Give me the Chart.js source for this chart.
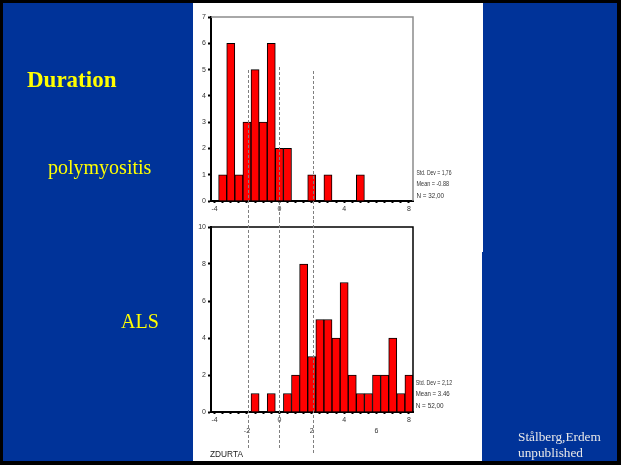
<!DOCTYPE html>
<html><head><meta charset="utf-8">
<script src="https://cdn.jsdelivr.net/npm/chart.js@4"></script>
<style>
html,body{margin:0;padding:0;background:#000;}
#slide{position:relative;width:621px;height:465px;background:#000;overflow:hidden;}
#blue{position:absolute;left:3px;top:3px;width:614px;height:458px;background:#003399;}
.white{position:absolute;background:#fff;}
canvas{position:absolute;}
svg{position:absolute;left:0;top:0;}
</style></head><body>
<div id="slide">
<div id="blue"></div>
<div class="white" style="left:193px;top:3px;width:290px;height:249px"></div>
<div class="white" style="left:193px;top:252px;width:289px;height:209px"></div>
<canvas id="c1" width="289" height="217" style="left:193px;top:3px"></canvas>
<canvas id="c2" width="289" height="241" style="left:193px;top:220px"></canvas>
<svg width="621" height="465">
  <text x="27" y="87" font-family="Liberation Serif" font-weight="bold" font-size="23" fill="#ffff00">Duration</text>
  <text x="48" y="174" font-family="Liberation Serif" font-size="20" fill="#ffff00">polymyositis</text>
  <text x="121" y="328" font-family="Liberation Serif" font-size="20" fill="#ffff00">ALS</text>
  <text x="518" y="440.5" font-family="Liberation Serif" font-size="13.3" fill="#e8e8e8">Stålberg,Erdem</text>
  <text x="518" y="457" font-family="Liberation Serif" font-size="13.3" fill="#e8e8e8">unpublished</text>
  <g font-family="Liberation Sans" font-size="6.5" fill="#333">
    <text x="416.5" y="175" textLength="35" lengthAdjust="spacingAndGlyphs">Std. Dev = 1,76</text>
    <text x="416.5" y="186" textLength="32.5" lengthAdjust="spacingAndGlyphs">Mean = -0.88</text>
    <text x="416.5" y="197.6" textLength="27.5" lengthAdjust="spacingAndGlyphs">N = 32,00</text>
    <text x="415.7" y="385" textLength="36.5" lengthAdjust="spacingAndGlyphs">Std. Dev = 2,12</text>
    <text x="415.7" y="396.3" textLength="34" lengthAdjust="spacingAndGlyphs">Mean = 3.46</text>
    <text x="415.7" y="408" textLength="28" lengthAdjust="spacingAndGlyphs">N = 52,00</text>
  </g>
  <text x="210" y="456.5" font-family="Liberation Sans" font-size="8.3" fill="#222" textLength="33" lengthAdjust="spacingAndGlyphs">ZDURTA</text>
</svg>
</div>
<script>
// ---- data ----
const polyBins   = [-3.5, -3, -2.5, -2, -1.5, -1, -0.5, 0, 0.5, 2, 3, 5];
const polyCounts = [1, 6, 1, 3, 5, 3, 6, 2, 2, 1, 1, 1];
const alsBins    = [-1.5, -0.5, 0.5, 1, 1.5, 2, 2.5, 3, 3.5, 4, 4.5, 5, 5.5, 6, 6.5, 7, 7.5, 8];
const alsCounts  = [1, 1, 1, 2, 8, 3, 5, 5, 4, 7, 2, 1, 1, 2, 2, 4, 1, 2];
const polyXLabels = [-4, 0, 4, 8];
const alsXLabelsUpper = [-4, 0, 4, 8];
const alsXLabelsLower = [-2, 2, 6];
const polyYMax = 7, polyYStep = 1;
const alsYMax = 10, alsYStep = 2;
const xMin = -4.22, xMax = 8.25, xStep = 0.5;
const refLines = [-1.95, 0, 2.05];

const has = (arr, v) => arr.some(l => Math.abs(l - v) < 1e-6);

function framePlugin(color, spans) {
  return {
    id: 'frame',
    afterDatasetsDraw(chart) {
      const { ctx, chartArea: a, scales: { x } } = chart;
      ctx.save();
      ctx.strokeStyle = color; ctx.lineWidth = 1.5;
      ctx.beginPath();
      ctx.moveTo(a.left, a.top); ctx.lineTo(a.right, a.top); ctx.lineTo(a.right, a.bottom);
      ctx.stroke();
      ctx.strokeStyle = '#808080'; ctx.lineWidth = 1; ctx.setLineDash([3, 2]);
      refLines.forEach((v, i) => {
        const px = Math.round(x.getPixelForValue(v)) + 0.5;
        ctx.beginPath(); ctx.moveTo(px, spans[i][0]); ctx.lineTo(px, spans[i][1]); ctx.stroke();
      });
      ctx.restore();
    }
  };
}

function makeChart(id, bins, counts, yMax, yStep, labelFn, padTop, xAxisH, lineHeight, tickPad, frameColor, spans) {
  return new Chart(document.getElementById(id), {
    type: 'bar',
    data: {
      datasets: [{
        data: bins.map((b, i) => ({ x: b, y: counts[i] })),
        backgroundColor: '#ff0000', borderColor: '#000', borderWidth: 1,
        barPercentage: 1, categoryPercentage: 1
      }]
    },
    options: {
      responsive: false, animation: false, devicePixelRatio: 1,
      layout: { padding: { left: 0, top: padTop, right: 69, bottom: 0 } },
      plugins: { legend: { display: false }, tooltip: { enabled: false } },
      scales: {
        x: {
          type: 'linear', min: xMin, max: xMax, offset: false,
          grid: { offset: false, drawOnChartArea: false, tickLength: 2, tickWidth: 2, tickColor: '#000' },
          border: { display: true, color: '#000', width: 2 },
          ticks: { stepSize: xStep, includeBounds: false, autoSkip: false, maxRotation: 0, minRotation: 0, padding: tickPad,
                   color: '#333', font: { family: 'Liberation Sans', size: 7, lineHeight: lineHeight },
                   callback: labelFn },
          afterBuildTicks: s => { s.ticks = s.ticks.filter(t => Math.abs(t.value * 2 - Math.round(t.value * 2)) < 1e-6); },
          afterFit: s => { s.height = xAxisH; }
        },
        y: {
          min: 0, max: yMax,
          grid: { drawOnChartArea: false, tickLength: 3, tickWidth: 2, tickColor: '#000' },
          border: { display: true, color: '#000', width: 2 },
          ticks: { stepSize: yStep, padding: 2, color: '#333', font: { family: 'Liberation Sans', size: 7 } },
          afterFit: s => { s.width = 18; }
        }
      }
    },
    plugins: [framePlugin(frameColor, spans)]
  });
}

makeChart('c1', polyBins, polyCounts, polyYMax, polyYStep,
  v => has(polyXLabels, v) ? String(Math.round(v)) : '',
  14, 19, 1.2, 2, '#8c8c8c', [[67, 217], [64, 217], [68, 217]]);

makeChart('c2', alsBins, alsCounts, alsYMax, alsYStep,
  v => has(alsXLabelsUpper, v) ? String(Math.round(v)) : (has(alsXLabelsLower, v) ? ['', String(Math.round(v))] : ''),
  7, 49, 1.6, 0, '#000', [[0, 230], [0, 228], [0, 233]]);
</script>
</body></html>
